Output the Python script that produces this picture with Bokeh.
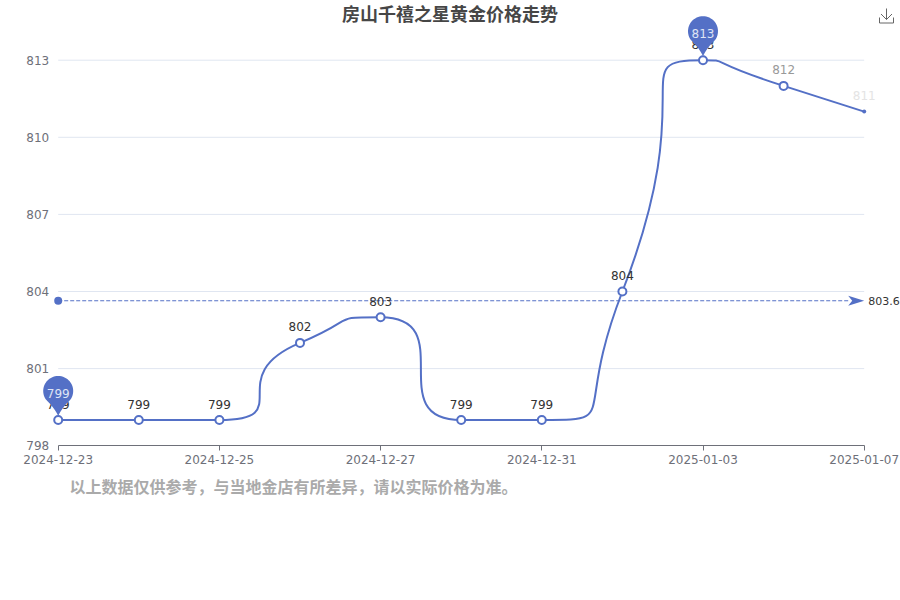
import math
from bokeh.plotting import figure
from bokeh.models import LinearAxis, FixedTicker, Label, ColumnDataSource
from bokeh.core.properties import value
from bokeh.embed import file_html
from bokeh.resources import INLINE

# ---- data ----
dates = ["2024-12-23", "2024-12-24", "2024-12-25", "2024-12-26", "2024-12-27", "2024-12-28",
         "2024-12-31", "2025-01-01", "2025-01-03", "2025-01-05", "2025-01-07"]
prices = [799, 799, 799, 802, 803, 799, 799, 804, 813, 812, 811]
average = 803.64
y_ticks = [798, 801, 804, 807, 810, 813]
x_ticks = [0, 2, 4, 6, 8, 10]
label_colors = ["#333333"] * 9 + ["#999999", "#e4e4e4"]
title_text = "房山千禧之星黄金价格走势"
note_text = "以上数据仅供参考，与当地金店有所差异，请以实际价格为准。"

# ---- layout ----
BLUE = "#5470C6"
AXIS = "#6E7079"
W, H = 900, 600
PX_X = 80.6     # pixels per category
PX_Y = 25.7     # pixels per price unit
SX0, SY_TOP = 57.7, 59.7   # page position of first category / of 813


def dx(px):
    return px / PX_X


def dy(px):
    return px / PX_Y


def page_x(sx):
    return dx(sx - SX0)


def page_y(sy):
    return y_ticks[-1] - dy(sy - SY_TOP)


p = figure(width=W, height=H, output_backend="svg", toolbar_location=None,
           x_range=(page_x(0), page_x(W)), y_range=(page_y(H), page_y(0)),
           min_border=0, min_border_left=0, min_border_right=0, min_border_top=0, min_border_bottom=0,
           outline_line_color=None, background_fill_color="white", border_fill_color="white",
           x_axis_type=None, y_axis_type=None)
p.grid.visible = False

# axes
xax = LinearAxis(ticker=FixedTicker(ticks=x_ticks), fixed_location=y_ticks[0], bounds=(0, len(prices) - 1),
                 major_label_overrides={i: dates[i] for i in x_ticks},
                 axis_line_color=AXIS, major_tick_line_color=AXIS, major_tick_out=5, major_tick_in=0,
                 minor_tick_line_color=None, major_label_text_color=AXIS,
                 major_label_text_font="DejaVu Sans", major_label_text_font_size="12px", major_label_standoff=4)
p.add_layout(xax, "below")
yax = LinearAxis(ticker=FixedTicker(ticks=y_ticks), fixed_location=0, bounds=(y_ticks[0], y_ticks[-1]),
                 axis_line_color=None, major_tick_line_color=None, minor_tick_line_color=None,
                 major_tick_out=0, major_tick_in=0,
                 major_label_text_color=AXIS, major_label_text_font="DejaVu Sans",
                 major_label_text_font_size="12px", major_label_standoff=9)
p.add_layout(yax, "left")

# horizontal grid
p.segment(x0=[0] * 5, x1=[len(prices) - 1] * 5, y0=y_ticks[1:], y1=y_ticks[1:], line_color="#E0E6F1", line_width=1)


# smoothed curve: control points follow the neighbouring points, kept inside each segment's box
def clamp(v, a, b):
    return max(min(a, b), min(max(a, b), v))


n = len(prices)
cp_after, cp_before = [None] * n, [None] * n
S = 1.0
for i in range(n):
    x, y = i, prices[i]
    if i == 0:
        cp_after[i] = (x, y)
        continue
    if i == n - 1:
        cp_before[i] = (x, y)
        continue
    px, py = i - 1, prices[i - 1]
    nx, ny = i + 1, prices[i + 1]
    vx, vy = nx - px, ny - py
    len_prev = math.hypot((x - px) * PX_X, (y - py) * PX_Y)
    len_next = math.hypot((nx - x) * PX_X, (ny - y) * PX_Y)
    ratio = len_next / (len_prev + len_next)
    ax = clamp(x + vx * S * ratio, x, nx)
    ay = clamp(y + vy * S * ratio, y, ny)
    bx = clamp(x - (ax - x) * len_prev / len_next, px, x)
    by = clamp(y - (ay - y) * len_prev / len_next, py, y)
    cp_before[i] = (bx, by)
    cp_after[i] = (x + (x - bx) * len_next / len_prev, y + (y - by) * len_next / len_prev)

p.bezier(x0=list(range(n - 1)), y0=prices[:-1], x1=list(range(1, n)), y1=prices[1:],
         cx0=[cp_after[i][0] for i in range(n - 1)], cy0=[cp_after[i][1] for i in range(n - 1)],
         cx1=[cp_before[i][0] for i in range(1, n)], cy1=[cp_before[i][1] for i in range(1, n)],
         line_color=BLUE, line_width=2)

# average mark line
p.line([0, n - 1 - dx(14)], [average, average], line_color=BLUE, line_width=1, line_dash="4 2")
p.scatter([0], [average], size=8, marker="circle", fill_color=BLUE, line_color=BLUE, line_width=0)
p.patch([n - 1, n - 1 - dx(16), n - 1 - dx(12), n - 1 - dx(16)],
        [average, average + dy(5), average, average - dy(5)], fill_color=BLUE, line_color=None)
p.text([n - 1], [average], text=[f"{average:.1f}"], x_offset=4, text_baseline="middle", text_align="left",
       text_font=value("DejaVu Sans"), text_font_size="11px", text_color="#333333")

# points
p.scatter(list(range(n - 1)), prices[:-1], size=8, marker="circle", fill_color="white", line_color=BLUE, line_width=2)
p.scatter([n - 1], prices[-1:], size=4, marker="circle", fill_color=BLUE, line_color=BLUE, line_width=0)

# point labels
src = ColumnDataSource(dict(x=list(range(n)), y=prices, t=[str(v) for v in prices], c=label_colors))
p.text("x", "y", text="t", source=src, text_color="c", y_offset=-16, text_align="center", text_baseline="middle",
       text_font=value("DejaVu Sans"), text_font_size="12px")


# min / max pins
def pin(ix, val):
    cy, r, tip = 29.0, 15.0, 4.0
    xs, ys = [], []
    steps = 40
    for k in range(steps + 1):
        ang = math.radians(-35 + (250 * k / steps))
        xs.append(r * math.cos(ang))
        ys.append(cy + r * math.sin(ang))
    sx, sy = xs[-1], ys[-1]
    ex, ey = xs[0], ys[0]
    left = []
    for k in range(1, 9):
        t = k / 8
        left.append(((1 - t) ** 2 * sx + 2 * t * (1 - t) * (-3.5), (1 - t) ** 2 * sy + 2 * t * (1 - t) * 12 + t * t * tip))
    right = []
    for k in range(0, 8):
        t = k / 8
        right.append((2 * t * (1 - t) * 3.5 + t * t * ex, (1 - t) ** 2 * tip + 2 * t * (1 - t) * 12 + t * t * ey))
    xs += [q[0] for q in left] + [q[0] for q in right]
    ys += [q[1] for q in left] + [q[1] for q in right]
    p.patch([ix + dx(a) for a in xs], [val + dy(b) for b in ys], fill_color=BLUE, line_color=None)
    p.text([ix], [val], text=[str(val)], y_offset=-27, text_align="center", text_baseline="middle",
           text_color="#dfe4f5", text_font=value("DejaVu Sans"), text_font_size="12px")


imin = prices.index(min(prices))
imax = prices.index(max(prices))
pin(imin, prices[imin])
pin(imax, prices[imax])

# title and note
p.add_layout(Label(x=449.5, y=H - 12, x_units="screen", y_units="screen", text=title_text, text_align="center",
                   text_baseline="middle", text_font="Noto Sans CJK SC", text_font_style="bold",
                   text_font_size="18px", text_color="#464646"))
p.add_layout(Label(x=69, y=H - 485, x_units="screen", y_units="screen", text=note_text, text_align="left",
                   text_baseline="middle", text_font="Noto Sans CJK SC", text_font_style="bold",
                   text_font_size="16px", text_color="#aaaaaa"))

# download icon
p.line([page_x(879), page_x(879), page_x(893), page_x(893)], [page_y(17), page_y(22.5), page_y(22.5), page_y(17)],
       line_color="#666666", line_width=1)
p.line([page_x(886), page_x(886)], [page_y(8), page_y(19)], line_color="#666666", line_width=1)
p.line([page_x(880.5), page_x(886), page_x(891.5)], [page_y(13.5), page_y(19), page_y(13.5)],
       line_color="#666666", line_width=1)

open("out.html", "w").write(file_html(p, INLINE))
